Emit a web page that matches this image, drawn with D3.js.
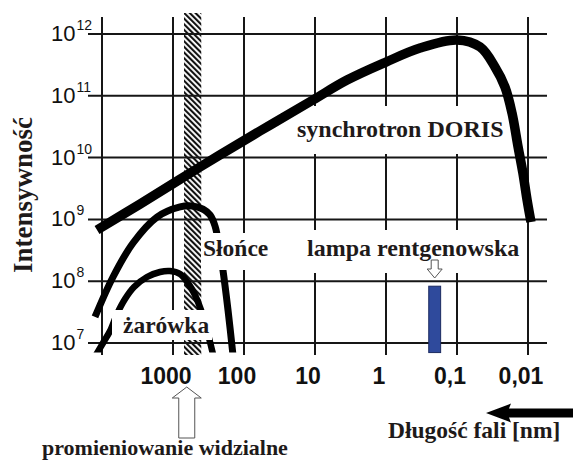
<!DOCTYPE html>
<html>
<head>
<meta charset="utf-8">
<script src="https://cdnjs.cloudflare.com/ajax/libs/d3/7.8.5/d3.min.js"></script>
<style>
  body { margin: 0; background: #fff; }
  .grid { stroke: #161616; stroke-width: 2px; }
  .curve { fill: none; stroke: #000; stroke-linecap: butt; stroke-linejoin: round; }
  .lbl { font-family: "Liberation Serif", "Times New Roman", serif; font-weight: bold; fill: #1e1a1a; }
  .tick { font-family: "Liberation Sans", Arial, sans-serif; fill: #111; }
</style>
</head>
<body>
<script>
// grid / ticks
var wlTicks = [1e4, 1e3, 1e2, 10, 1, 0.1, 0.01];
var wlLabels = ["", "1000", "100", "10", "1", "0,1", "0,01"];
var intExp = [7, 8, 9, 10, 11, 12];

// synchrotron DORIS (wavelength nm, intensity)
var syncWl = [11750, 2917, 417, 59.6, 10.7, 3.54, 1, 0.332, 0.1, 0.0474, 0.0292, 0.0211, 0.0168, 0.0138, 0.0118, 0.0103, 0.00908];
var syncI  = [6.73e8, 1.77e9, 7.05e9, 2.69e10, 8.55e10, 1.8e11, 3.52e11, 5.93e11, 8.0e11, 6.17e11, 2.93e11, 1.39e11, 5.27e10, 1.49e10, 5.64e9, 2.06e9, 9.08e8];

// Słońce
var sunWl = [12550, 7000, 3656, 1679, 796, 540, 378, 301, 256, 225, 198, 168, 143];
var sunI  = [2.64e7, 1.17e8, 4.15e8, 1.09e9, 1.59e9, 1.65e9, 1.47e9, 1.18e9, 7.82e8, 3.86e8, 1.52e8, 3.42e7, 6.4e6];

// żarówka
var bulbWl = [12150, 9680, 7710, 6150, 4740, 3540, 2323, 1524, 1101, 796, 615, 490, 403, 343, 301, 265];
var bulbI  = [6.4e6, 1.0e7, 1.56e7, 2.94e7, 5.15e7, 8.05e7, 1.17e8, 1.41e8, 1.46e8, 1.31e8, 9.35e7, 5.98e7, 3.42e7, 1.82e7, 1.04e7, 5.7e6];

// visible band, x-ray lamp line
var visibleBand = [700, 400];
var visibleArrowWl = 640;
var lampWl = [0.25, 0.17];
var lampTop = 8.3e7;
var intFloor = 7e6;

var W = 573, H = 461;
var x = d3.scaleLog().domain([1e4, 0.01]).range([102, 528]);
var y = d3.scaleLog().domain([1e7, 1e12]).range([343, 34]);

var svg = d3.select("body").append("svg")
    .attr("width", W).attr("height", H);

var defs = svg.append("defs");
var pat = defs.append("pattern")
    .attr("id", "hatch")
    .attr("patternUnits", "userSpaceOnUse")
    .attr("width", 4).attr("height", 4)
    .attr("patternTransform", "rotate(-45)");
pat.append("rect")
    .attr("x", 0).attr("y", 0).attr("width", 2.1).attr("height", 4)
    .attr("fill", "#111");

defs.append("clipPath").attr("id", "plot")
  .append("rect").attr("x", 85).attr("y", 0).attr("width", 470).attr("height", y(intFloor));

// visible light band
svg.append("rect")
    .attr("x", x(visibleBand[0]))
    .attr("width", x(visibleBand[1]) - x(visibleBand[0]))
    .attr("y", 13).attr("height", 342)
    .attr("fill", "url(#hatch)");

// grid
svg.selectAll(".hg").data(intExp).enter().append("line")
    .attr("class", "grid")
    .attr("x1", 88).attr("x2", 547)
    .attr("y1", d => y(Math.pow(10, d))).attr("y2", d => y(Math.pow(10, d)));
svg.selectAll(".vg").data(wlTicks).enter().append("line")
    .attr("class", "grid")
    .attr("x1", d => x(d)).attr("x2", d => x(d))
    .attr("y1", 17).attr("y2", 355);

// white box behind synchrotron label (curve goes over it)
svg.append("rect").attr("x", 293).attr("y", 106).attr("width", 220).attr("height", 48).attr("fill", "#fff");

var line = d3.line()
    .curve(d3.curveCatmullRom.alpha(0.5))
    .x(d => x(d[0]))
    .y(d => y(d[1]));

var g = svg.append("g").attr("clip-path", "url(#plot)");
g.append("path").attr("class", "curve").attr("stroke-width", 9.5)
    .attr("d", line(d3.zip(syncWl, syncI)));
g.append("path").attr("class", "curve").attr("stroke-width", 7)
    .attr("d", line(d3.zip(sunWl, sunI)));
g.append("path").attr("class", "curve").attr("stroke-width", 6.5)
    .attr("d", line(d3.zip(bulbWl, bulbI)));

// label boxes that hide curves
svg.append("rect").attr("x", 201).attr("y", 233).attr("width", 72).attr("height", 37).attr("fill", "#fff");
svg.append("rect").attr("x", 112).attr("y", 310).attr("width", 100).attr("height", 30).attr("fill", "#fff");
svg.append("rect").attr("x", 300).attr("y", 230).attr("width", 222).attr("height", 43).attr("fill", "#fff");

// x-ray lamp
svg.append("rect")
    .attr("x", x(lampWl[0]))
    .attr("width", x(lampWl[1]) - x(lampWl[0]))
    .attr("y", y(lampTop))
    .attr("height", y(intFloor) - y(lampTop))
    .attr("fill", "#2f4a9c")
    .attr("stroke", "#1b2a60").attr("stroke-width", 1);

// labels
function label(t, px, py, size) {
  svg.append("text").attr("class", "lbl")
    .attr("x", px).attr("y", py)
    .style("font-size", size + "px")
    .text(t);
}
label("synchrotron DORIS", 297, 137, 24);
label("Słońce", 203, 256, 23.5);
label("żarówka", 123, 333, 23.5);
label("lampa rentgenowska", 307, 256, 24);
label("Długość fali [nm]", 388, 438, 23.5);
label("promieniowanie widzialne", 42, 455, 22);

svg.append("text").attr("class", "lbl")
    .attr("transform", "translate(32,195) rotate(-90)")
    .attr("text-anchor", "middle")
    .style("font-size", "27px")
    .text("Intensywność");

// x tick labels
svg.selectAll(".xl").data(wlTicks).enter().append("text")
    .attr("class", "tick")
    .attr("x", d => x(d) - 7)
    .attr("y", 384)
    .attr("text-anchor", "middle")
    .style("font-size", "23px").style("font-weight", "bold")
    .text((d, i) => wlLabels[i]);

// y tick labels
var yl = svg.selectAll(".yl").data(intExp).enter().append("text")
    .attr("class", "tick")
    .attr("x", 51)
    .attr("y", d => y(Math.pow(10, d)) + 7)
    .style("font-size", "22px");
yl.append("tspan").text("10");
yl.append("tspan").attr("dy", -11).attr("dx", 1).style("font-size", "14px").text(d => d);

// arrow pointing at the visible band
var ax = x(visibleArrowWl);
svg.append("path")
    .attr("d", "M" + ax + ",387 L" + (ax + 14.5) + ",398 L" + (ax + 8) + ",398 L" + (ax + 8) + ",438 L" + (ax - 8) + ",438 L" + (ax - 8) + ",398 L" + (ax - 14.5) + ",398 Z")
    .attr("fill", "#fff").attr("stroke", "#555").attr("stroke-width", 1);

// small arrow above the lamp
var lx = (x(lampWl[0]) + x(lampWl[1])) / 2;
svg.append("path")
    .attr("d", "M" + (lx - 3.5) + ",260 L" + (lx + 3.5) + ",260 L" + (lx + 3.5) + ",269 L" + (lx + 7.5) + ",269 L" + lx + ",278 L" + (lx - 7.5) + ",269 L" + (lx - 3.5) + ",269 Z")
    .attr("fill", "#fff").attr("stroke", "#555").attr("stroke-width", 1);

// wavelength direction arrow
svg.append("path")
    .attr("d", "M486,413 L511,403.5 L509,408.5 L573,408.5 L573,417.5 L509,417.5 L511,422.5 Z")
    .attr("fill", "#000");
</script>
</body>
</html>
